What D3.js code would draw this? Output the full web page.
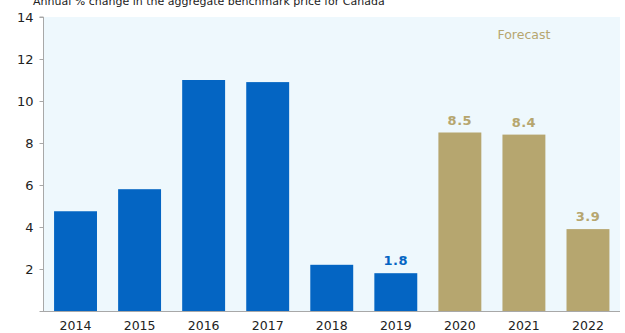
<!DOCTYPE html>
<html>
<head>
<meta charset="utf-8">
<script src="https://cdn.jsdelivr.net/npm/d3@7"></script>
<style>
  html, body { margin: 0; padding: 0; background: #fff; }
  svg { display: block; font-family: "DejaVu Sans", Verdana, sans-serif; }
</style>
</head>
<body>
<svg id="chart" width="625" height="333"></svg>
<script>
// Annual % change in the aggregate benchmark price, actuals and forecast
const years = ["2014", "2015", "2016", "2017", "2018", "2019", "2020", "2021", "2022"];
const changes = [4.75, 5.8, 11.0, 10.9, 2.2, 1.8, 8.5, 8.4, 3.9];
const forecastYears = ["2020", "2021", "2022"];
const labelledYears = ["2019", "2020", "2021", "2022"];
const yTicks = [2, 4, 6, 8, 10, 12, 14];
const titleText = "Annual % change in the aggregate benchmark price for Canada";
const forecastText = "Forecast";

const BLUE = "#0465c3";
const GOLD = "#b6a66f";

const svg = d3.select("#chart");
const plot = { left: 43.5, right: 620, top: 17, bottom: 311 };

const x = d3.scaleBand()
  .domain(years)
  .range([plot.left, plot.right])
  .paddingInner(0.33)
  .paddingOuter(0.165);

const y = d3.scaleLinear()
  .domain([0, 14])
  .range([plot.bottom, plot.top]);

// plot background
svg.append("rect")
  .attr("x", plot.left)
  .attr("y", plot.top)
  .attr("width", plot.right - plot.left)
  .attr("height", plot.bottom - plot.top)
  .attr("fill", "#eef8fd");

// title (partly cut off by the top edge)
svg.append("text")
  .attr("x", 33)
  .attr("y", 5)
  .attr("font-size", 11)
  .attr("fill", "#222")
  .text(titleText);

// bars
const data = years.map((yr, i) => ({ year: yr, value: changes[i], forecast: forecastYears.includes(yr) }));

svg.append("g")
  .selectAll("rect")
  .data(data)
  .join("rect")
  .attr("x", d => x(d.year))
  .attr("y", d => y(d.value))
  .attr("width", x.bandwidth())
  .attr("height", d => y(0) - y(d.value))
  .attr("fill", d => d.forecast ? GOLD : BLUE);

// value labels
svg.append("g")
  .selectAll("text")
  .data(data.filter(d => labelledYears.includes(d.year)))
  .join("text")
  .attr("x", d => x(d.year) + x.bandwidth() / 2)
  .attr("y", d => y(d.value) - 8)
  .attr("text-anchor", "middle")
  .attr("font-size", 13)
  .attr("font-weight", "bold")
  .attr("letter-spacing", 0.5)
  .attr("fill", d => d.forecast ? GOLD : BLUE)
  .text(d => d.value.toFixed(1));

// forecast note
svg.append("text")
  .attr("x", x("2021") + x.bandwidth() / 2)
  .attr("y", 39)
  .attr("text-anchor", "middle")
  .attr("font-size", 12.5)
  .attr("fill", GOLD)
  .text(forecastText);

// y axis
const yAxis = d3.axisLeft(y)
  .tickValues(yTicks)
  .tickSize(4)
  .tickPadding(6)
  .tickFormat(d3.format("d"));

const gy = svg.append("g")
  .attr("transform", `translate(${plot.left},0)`)
  .call(yAxis);
gy.select(".domain").attr("stroke", "#a8a8a8").attr("d", `M-4,${plot.top}H0V${plot.bottom}`);
gy.selectAll(".tick line").attr("stroke", "#a8a8a8");
gy.selectAll(".tick text").attr("font-size", 13).attr("fill", "#222").attr("font-family", "DejaVu Sans, sans-serif");

// x baseline
svg.append("line")
  .attr("x1", plot.left - 4)
  .attr("x2", plot.right)
  .attr("y1", plot.bottom + 0.5)
  .attr("y2", plot.bottom + 0.5)
  .attr("stroke", "#a8a8a8");

// x axis labels
const xAxis = d3.axisBottom(x).tickSize(0).tickPadding(10);
const gx = svg.append("g")
  .attr("transform", `translate(0,${plot.bottom})`)
  .call(xAxis);
gx.select(".domain").remove();
gx.selectAll(".tick text").attr("font-size", 12.5).attr("fill", "#222").attr("font-family", "DejaVu Sans, sans-serif");
</script>
</body>
</html>
